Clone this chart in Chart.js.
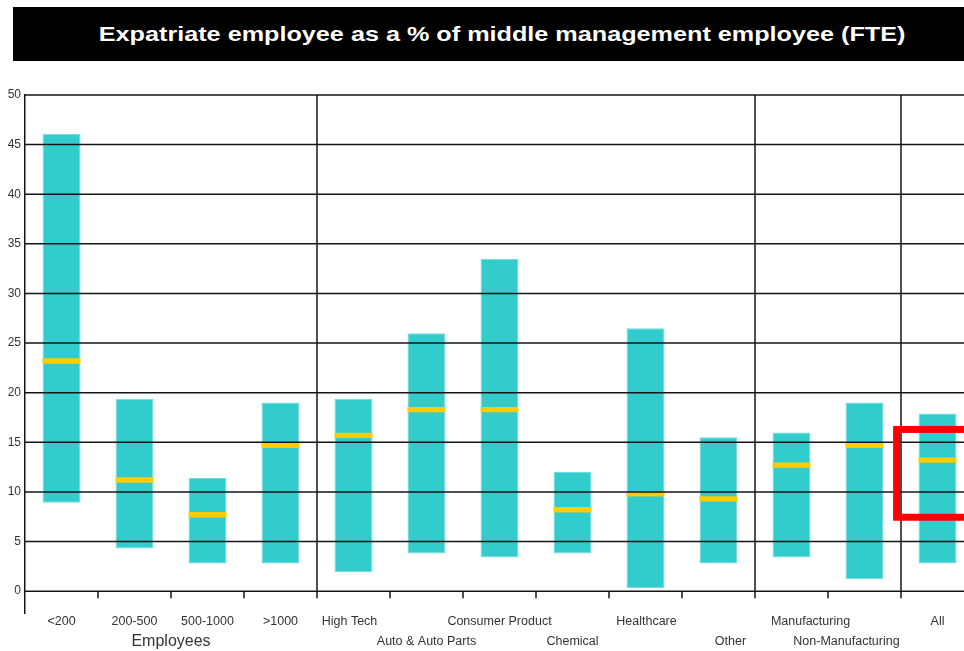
<!DOCTYPE html>
<html>
<head>
<meta charset="utf-8">
<title>Expatriate employee share</title>
<script src="https://cdn.jsdelivr.net/npm/chart.js@4.4.1/dist/chart.umd.min.js"></script>
<style>
    html, body { margin: 0; padding: 0; background: #fff; overflow: hidden; }
    #wrap { position: relative; width: 964px; height: 651px; overflow: hidden; }
    #title {
        position: absolute; left: 13px; top: 7px; width: 978px; height: 54px;
        background: #000; color: #fff; text-align: center;
        font: bold 21px "Liberation Sans", Arial, sans-serif;
        line-height: 54px;
    }
    #title span { display: inline-block; transform: scaleX(1.2); }
    #chart { position: absolute; left: 0; top: 0; }
</style>
</head>
<body>
<div id="wrap">
    <canvas id="chart" width="1000" height="651"></canvas>
    <div id="title"><span>Expatriate employee as a % of middle management employee (FTE)</span></div>
</div>
<script>
// Ranges (low / high) and median per segment
const categories = ['<200', '200-500', '500-1000', '>1000', 'High Tech', 'Auto & Auto Parts',
    'Consumer Product', 'Chemical', 'Healthcare', 'Other', 'Manufacturing', 'Non-Manufacturing', 'All'];
const labelRow = [0, 0, 0, 0, 0, 1, 0, 1, 0, 1, 0, 1, 0];
const lowValues = [8.9, 4.3, 2.8, 2.8, 1.9, 3.8, 3.4, 3.8, 0.3, 2.8, 3.4, 1.2, 2.8];
const highValues = [46.1, 19.4, 11.4, 19.0, 19.4, 26.0, 33.5, 12.0, 26.5, 15.5, 16.0, 19.0, 17.9];
const medianValues = [23.2, 11.2, 7.7, 14.7, 15.7, 18.3, 18.3, 8.2, 9.8, 9.3, 12.7, 14.7, 13.2];
const yTicks = [0, 5, 10, 15, 20, 25, 30, 35, 40, 45, 50];

// groups start at these category indexes (a full-height rule is drawn before them)
const groupStarts = [4, 10, 12];
const groupCaption = 'Employees';
const groupCaptionAt = [1, 2];

// the "All" median is boxed in red
const highlightIndex = 12;
const highlightRange = [7.45, 16.3];

// layout / style
const labelNudge = [0, 0, 0, 0, -4, 0, 0, 0, 1, 12, 19, -18, 0];
const MEDIAN_HALF = 0.27;
const LINE_COLOR = '#141414';
const TEXT_COLOR = '#333333';
const FONT = '"Liberation Sans", Arial, sans-serif';

const rangeData = categories.map((c, i) => [lowValues[i], highValues[i]]);
const medianData = categories.map((c, i) => [medianValues[i] - MEDIAN_HALF, medianValues[i] + MEDIAN_HALF]);

// grid, separators, tick marks, category labels and highlight box drawn over the bars
const overlayPlugin = {
    id: 'overlay',
    afterDatasetsDraw(chart) {
        const { ctx, chartArea, scales: { x, y } } = chart;
        const zeroY = y.getPixelForValue(0);
        const half = (x.getPixelForValue(1) - x.getPixelForValue(0)) / 2;
        ctx.save();

        ctx.strokeStyle = LINE_COLOR;
        ctx.lineWidth = 1.5;
        yTicks.forEach(v => {
            const py = y.getPixelForValue(v);
            ctx.beginPath();
            ctx.moveTo(chartArea.left, py);
            ctx.lineTo(chartArea.right, py);
            ctx.stroke();
        });

        for (let i = 1; i < categories.length; i++) {
            const px = x.getPixelForValue(i) - half;
            ctx.beginPath();
            ctx.moveTo(px, groupStarts.includes(i) ? chartArea.top : zeroY);
            ctx.lineTo(px, zeroY + 7);
            ctx.stroke();
        }

        // staggered category labels
        ctx.fillStyle = TEXT_COLOR;
        ctx.textAlign = 'center';
        ctx.textBaseline = 'middle';
        ctx.font = '12.5px ' + FONT;
        categories.forEach((c, i) => {
            const ly = chartArea.bottom + (labelRow[i] ? 29 : 9);
            ctx.fillText(c, x.getPixelForValue(i) + labelNudge[i], ly);
        });

        ctx.font = '16px ' + FONT;
        const capX = (x.getPixelForValue(groupCaptionAt[0]) + x.getPixelForValue(groupCaptionAt[1])) / 2;
        ctx.fillText(groupCaption, capX, chartArea.bottom + 29);

        const hx = x.getPixelForValue(highlightIndex);
        ctx.strokeStyle = '#ff0000';
        ctx.lineWidth = 7;
        const top = y.getPixelForValue(highlightRange[1]);
        const bottom = y.getPixelForValue(highlightRange[0]);
        ctx.strokeRect(hx - half * 1.12, top, half * 2.08, bottom - top);
        ctx.restore();
    }
};

new Chart(document.getElementById('chart'), {
    type: 'bar',
    data: {
        labels: categories,
        datasets: [
            {
                label: 'Median',
                data: medianData,
                backgroundColor: '#ffcc00',
                borderWidth: 0,
                barPercentage: 0.52,
                categoryPercentage: 1,
                grouped: false,
                order: 1
            },
            {
                label: 'Range',
                data: rangeData,
                backgroundColor: '#33cccc',
                borderColor: '#6cdede',
                borderWidth: 1,
                borderSkipped: false,
                barPercentage: 0.52,
                categoryPercentage: 1,
                grouped: false,
                order: 2
            }
        ]
    },
    options: {
        responsive: false,
        animation: false,
        events: [],
        layout: { padding: { top: 95, left: 0, right: 26, bottom: 0 } },
        plugins: {
            legend: { display: false },
            tooltip: { enabled: false }
        },
        scales: {
            x: {
                grid: { display: false, drawTicks: false },
                border: { display: false },
                ticks: { display: false },
                afterFit: s => { s.height = 38; }
            },
            y: {
                min: -2.2,
                max: 50,
                grid: { display: false, drawTicks: false },
                border: { display: true, color: LINE_COLOR, width: 1.5 },
                afterBuildTicks: s => { s.ticks = yTicks.map(v => ({ value: v })); },
                ticks: {
                    color: TEXT_COLOR,
                    font: { family: FONT, size: 12 },
                    padding: 4
                },
                afterFit: s => { s.width = 25; }
            }
        }
    },
    plugins: [overlayPlugin]
});
</script>
</body>
</html>
